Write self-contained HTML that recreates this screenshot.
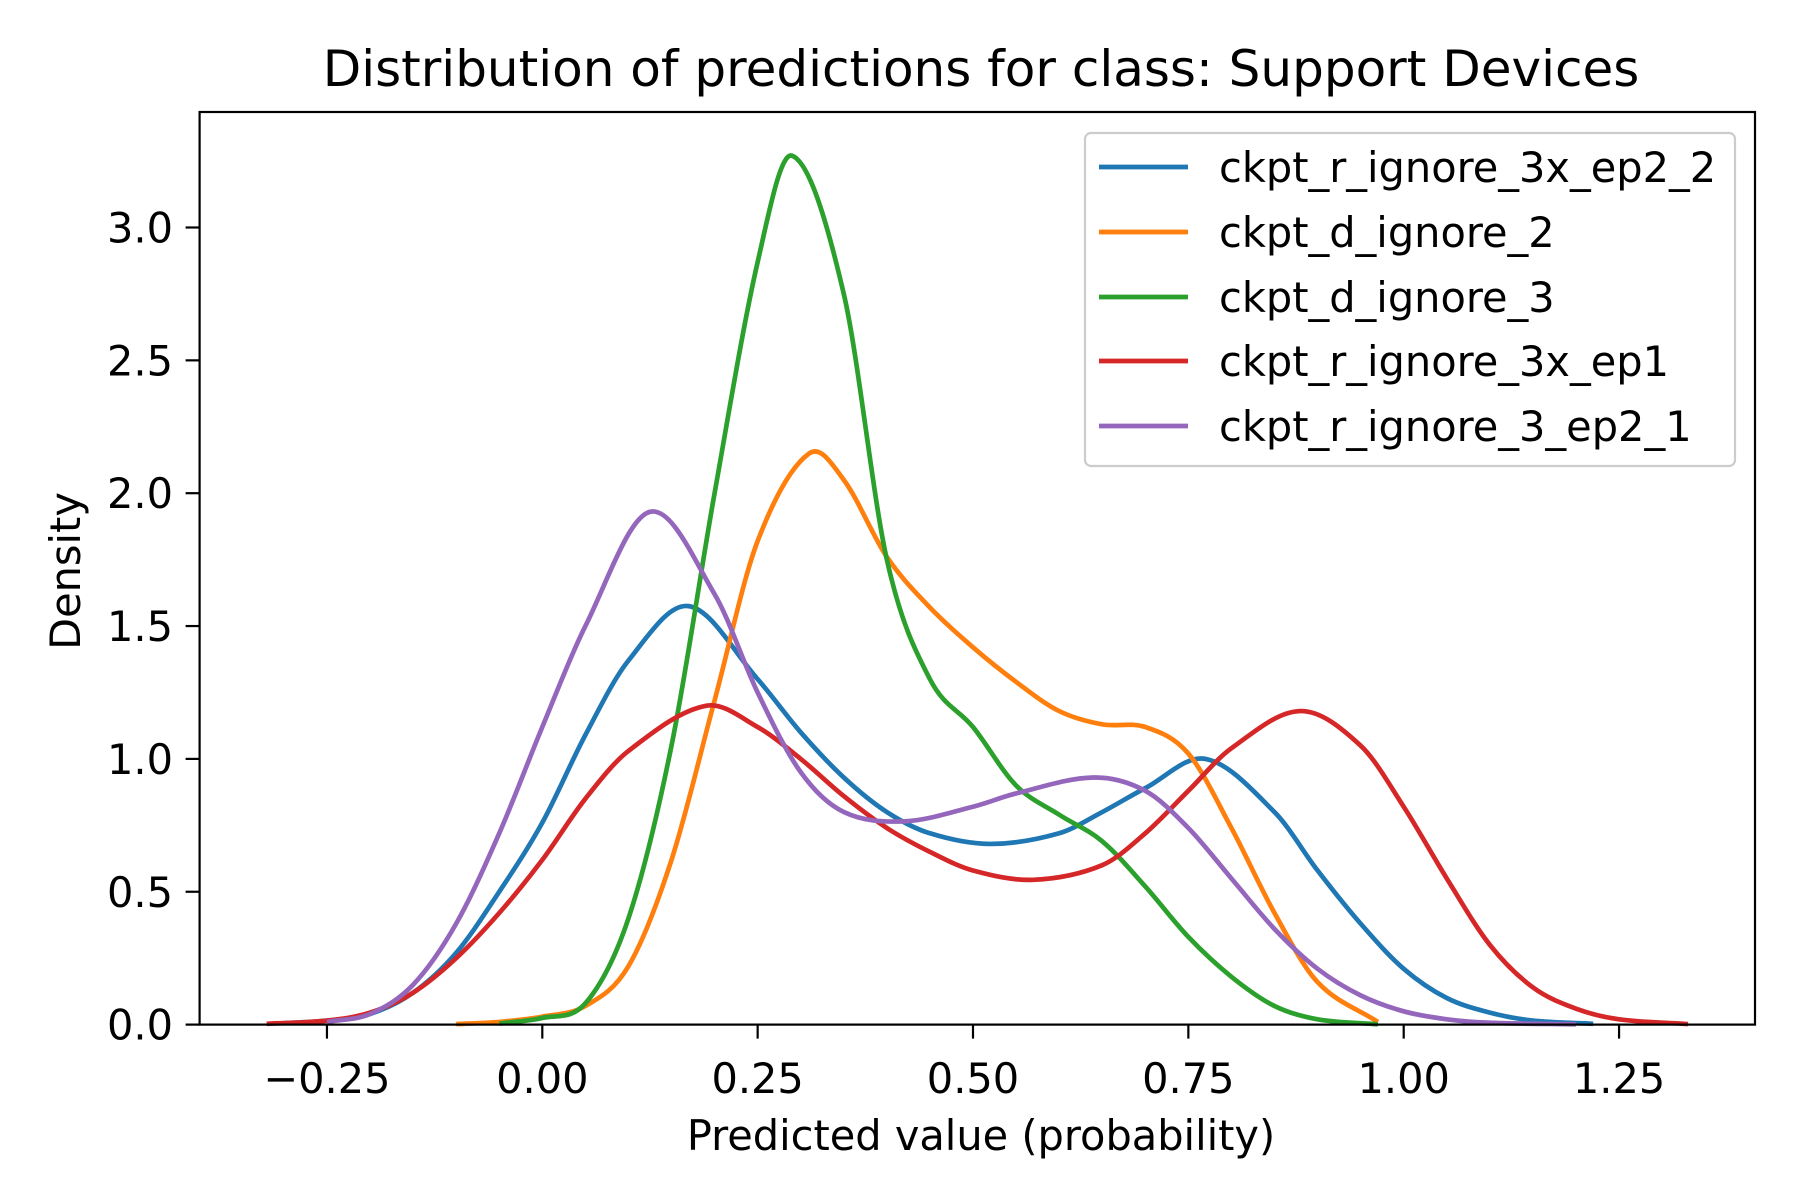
<!DOCTYPE html>
<html><head><meta charset="utf-8"><style>
html,body{margin:0;padding:0;background:#fff;}
svg{display:block;font-family:"DejaVu Sans","Liberation Sans",sans-serif;}
</style></head><body>
<svg id="chart" width="1800" height="1200" viewBox="0 0 1800 1200">
<rect width="1800" height="1200" fill="#fff"/>
<g id="plot"></g>
<rect x="199.6" y="112" width="1555.4" height="912.6" fill="none" stroke="#000" stroke-width="2.2"/>
<text x="981" y="86" text-anchor="middle" font-size="50" fill="#000">Distribution of predictions for class: Support Devices</text>
<text x="981" y="1150" text-anchor="middle" font-size="41.5" fill="#000">Predicted value (probability)</text>
<text transform="translate(80,571) rotate(-90)" text-anchor="middle" font-size="41.5" fill="#000">Density</text>
<g id="ticks"></g>
<g id="legend">
<rect x="1085" y="133" width="650" height="333" rx="6" fill="#fff" fill-opacity="0.8" stroke="#ccc" stroke-width="2.2"/>
</g>
</svg>
<script>
const seriesNames=["ckpt_r_ignore_3x_ep2_2","ckpt_d_ignore_2","ckpt_d_ignore_3","ckpt_r_ignore_3x_ep1","ckpt_r_ignore_3_ep2_1"];
const seriesColors=["#1f77b4","#ff7f0e","#2ca02c","#d62728","#9467bd"];
const blueX=[-0.30,-0.25,-0.20,-0.15,-0.10,-0.05,0.00,0.05,0.10,0.17,0.25,0.30,0.35,0.40,0.45,0.52,0.60,0.65,0.70,0.77,0.85,0.90,0.95,1.00,1.05,1.10,1.15,1.22];
const blueY=[0.005,0.015,0.04,0.12,0.27,0.5,0.76,1.09,1.37,1.575,1.30,1.10,0.93,0.80,0.72,0.68,0.72,0.80,0.89,1.0,0.80,0.58,0.38,0.21,0.10,0.045,0.015,0.003];
const orangeX=[-0.10,-0.05,0.00,0.05,0.10,0.15,0.20,0.25,0.31,0.35,0.40,0.45,0.50,0.55,0.60,0.65,0.70,0.75,0.80,0.85,0.90,0.97];
const orangeY=[0.002,0.01,0.03,0.07,0.22,0.62,1.22,1.82,2.15,2.05,1.76,1.57,1.42,1.29,1.18,1.13,1.12,1.02,0.74,0.42,0.16,0.01];
const greenX=[-0.05,0.00,0.05,0.10,0.15,0.20,0.25,0.29,0.35,0.40,0.45,0.50,0.55,0.60,0.65,0.70,0.75,0.80,0.85,0.90,0.97];
const greenY=[0.004,0.025,0.08,0.4,1.05,2.0,2.87,3.27,2.75,1.75,1.30,1.12,0.9,0.79,0.69,0.52,0.33,0.18,0.07,0.02,0.001];
const redX=[-0.32,-0.25,-0.20,-0.15,-0.10,-0.05,0.00,0.05,0.10,0.19,0.25,0.30,0.35,0.40,0.45,0.50,0.57,0.65,0.70,0.75,0.80,0.88,0.95,1.00,1.05,1.10,1.15,1.20,1.25,1.33];
const redY=[0.003,0.015,0.045,0.12,0.25,0.42,0.62,0.85,1.03,1.2,1.12,1.0,0.86,0.74,0.65,0.58,0.545,0.6,0.72,0.88,1.04,1.18,1.05,0.82,0.55,0.3,0.14,0.06,0.02,0.002];
const purpleX=[-0.25,-0.20,-0.15,-0.10,-0.05,0.00,0.05,0.125,0.20,0.25,0.30,0.35,0.42,0.50,0.55,0.64,0.70,0.75,0.80,0.85,0.90,0.95,1.00,1.05,1.10,1.20];
const purpleY=[0.01,0.04,0.15,0.38,0.72,1.12,1.5,1.93,1.62,1.25,0.95,0.8,0.765,0.82,0.87,0.93,0.88,0.74,0.55,0.36,0.21,0.11,0.05,0.02,0.007,0.001];
const xTickVals=[-0.25,0,0.25,0.5,0.75,1.0,1.25];
const xTickLabels=["\u22120.25","0.00","0.25","0.50","0.75","1.00","1.25"];
const yTickVals=[0,0.5,1.0,1.5,2.0,2.5,3.0];
const yTickLabels=["0.0","0.5","1.0","1.5","2.0","2.5","3.0"];

const X0=542.3,XS=861.4,Y0=1024.6,YS=265.7;
const sx=v=>X0+v*XS, sy=v=>Y0-v*YS;
const NS="http://www.w3.org/2000/svg";
function mk(t,a,p){const e=document.createElementNS(NS,t);for(const k in a)e.setAttribute(k,a[k]);p.appendChild(e);return e;}
const plot=document.getElementById('plot'),ticks=document.getElementById('ticks'),legend=document.getElementById('legend');
function pathFor(xs,ys){
  const n=xs.length,m=[];
  for(let i=0;i<n;i++){
    if(i===0)m.push((ys[1]-ys[0])/(xs[1]-xs[0]));
    else if(i===n-1)m.push((ys[n-1]-ys[n-2])/(xs[n-1]-xs[n-2]));
    else m.push((ys[i+1]-ys[i-1])/(xs[i+1]-xs[i-1]));
  }
  let d=`M${sx(xs[0])},${sy(ys[0])}`;
  for(let i=0;i<n-1;i++){
    const h=xs[i+1]-xs[i];
    const c1x=xs[i]+h/3,c1y=ys[i]+m[i]*h/3;
    const c2x=xs[i+1]-h/3,c2y=ys[i+1]-m[i+1]*h/3;
    d+=`C${sx(c1x)},${sy(c1y)} ${sx(c2x)},${sy(c2y)} ${sx(xs[i+1])},${sy(ys[i+1])}`;
  }
  return d;
}
const allX=[blueX,orangeX,greenX,redX,purpleX],allY=[blueY,orangeY,greenY,redY,purpleY];
for(let s=0;s<5;s++){
  const el=mk('path',{d:pathFor(allX[s],allY[s]),fill:'none',stroke:seriesColors[s],'stroke-width':4.7,'stroke-linejoin':'round'},plot);
  
  
}
xTickVals.forEach((v,i)=>{
  const l=mk('line',{x1:sx(v),x2:sx(v),y1:Y0,y2:Y0+14,stroke:'#000','stroke-width':2.2},ticks);
  
  
  const t=mk('text',{x:sx(v),y:1093,'text-anchor':'middle','font-size':41.5,fill:'#000'},ticks);
  t.textContent=xTickLabels[i];
  
  
});
yTickVals.forEach((v,i)=>{
  const l=mk('line',{x1:199.6-14,x2:199.6,y1:sy(v),y2:sy(v),stroke:'#000','stroke-width':2.2},ticks);
  
  
  const t=mk('text',{x:173,y:sy(v)+15,'text-anchor':'end','font-size':41.5,fill:'#000'},ticks);
  t.textContent=yTickLabels[i];
  
  
});
const legYs=[167,232,297,361,426];
seriesNames.forEach((n,i)=>{
  const g=mk('g',{},legend);
  
  
  mk('line',{x1:1099,x2:1188,y1:legYs[i],y2:legYs[i],stroke:seriesColors[i],'stroke-width':4.7},g);
  const t=mk('text',{x:1219,y:legYs[i]+15,'font-size':41.5,fill:'#000'},g);
  t.textContent=n;
});
</script>
</body></html>
